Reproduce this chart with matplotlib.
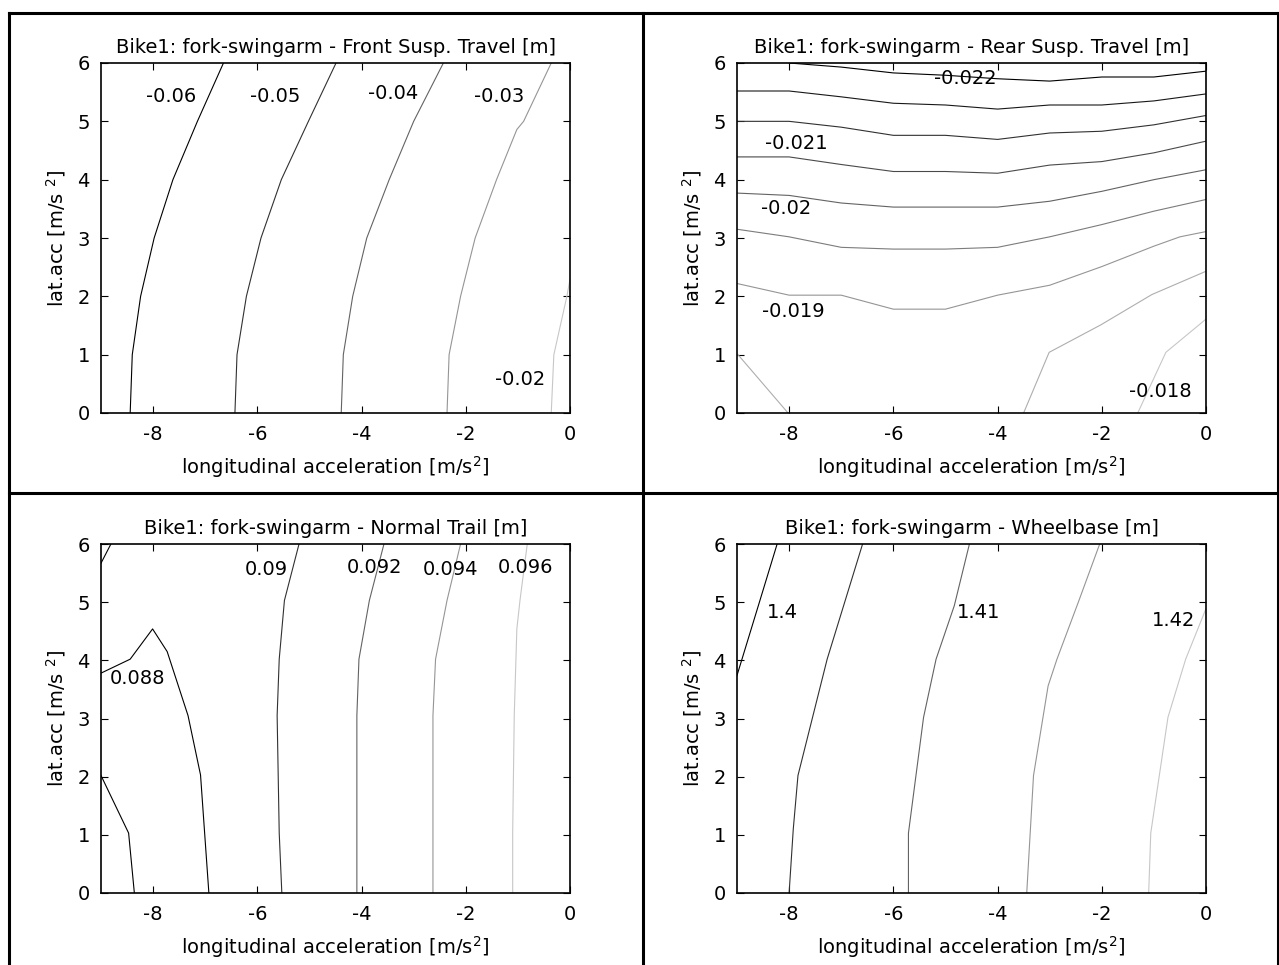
import numpy as np
import matplotlib
matplotlib.use("Agg")
import matplotlib.pyplot as plt
from matplotlib.lines import Line2D

plt.rcParams['font.family'] = ['DejaVu Sans']
plt.rcParams['font.size'] = 14
plt.rcParams['axes.unicode_minus'] = False

# ---------------- data ----------------
# Front susp. travel [m]
front_levels = [-0.06, -0.05, -0.04, -0.03, -0.02]
front_x = [[-8.44, -8.40, -8.24, -7.98, -7.62, -7.15, -6.65],
           [-6.43, -6.39, -6.21, -5.93, -5.54, -5.02, -4.49],
           [-4.39, -4.35, -4.17, -3.90, -3.47, -3.00, -2.43],
           [-2.36, -2.32, -2.10, -1.82, -1.41, -1.02, -0.89, -0.36],
           [-0.36, -0.31, -0.06, 0.0]]
front_y = [[0, 1, 2, 3, 4, 5, 6],
           [0, 1, 2, 3, 4, 5, 6],
           [0, 1, 2, 3, 4, 5, 6],
           [0, 1, 2, 3, 4, 4.86, 5, 6],
           [0, 1, 2, 2.29]]
front_lab = ["-0.06", "-0.05", "-0.04", "-0.03", "-0.02"]
front_lab_xy = [(-7.65, 5.42), (-5.65, 5.43), (-3.39, 5.47), (-1.36, 5.42), (-0.96, 0.57)]

# Rear susp. travel [m]
xg = [-9, -8, -7, -6, -5, -4, -3, -2, -1, 0]
rear_levels = [-0.022, -0.0215, -0.021, -0.0205, -0.020, -0.0195, -0.019,
               -0.0185, -0.0185, -0.018]
rear_x = [xg[1:],
          xg, xg, xg, xg, xg,
          [-9, -8, -7, -6, -5, -4, -3, -2, -1, -0.5, 0],
          [-9, -8.02],
          [-3.5, -3.01, -2.02, -1.04, 0],
          [-1.31, -0.77, 0]]
rear_y = [[6.0, 5.93, 5.83, 5.79, 5.73, 5.69, 5.76, 5.76, 5.86],
          [5.52, 5.52, 5.42, 5.31, 5.28, 5.21, 5.28, 5.28, 5.35, 5.47],
          [5.0, 5.0, 4.9, 4.76, 4.76, 4.69, 4.8, 4.83, 4.94, 5.1],
          [4.39, 4.39, 4.26, 4.14, 4.14, 4.11, 4.25, 4.31, 4.46, 4.66],
          [3.77, 3.73, 3.6, 3.53, 3.53, 3.53, 3.63, 3.8, 4.0, 4.17],
          [3.15, 3.02, 2.84, 2.81, 2.81, 2.84, 3.02, 3.23, 3.46, 3.66],
          [2.22, 2.02, 2.02, 1.78, 1.78, 2.02, 2.19, 2.51, 2.86, 3.02, 3.11],
          [1.02, 0.0],
          [0.0, 1.04, 1.51, 2.03, 2.43],
          [0.0, 1.04, 1.61]]
rear_lab = ["-0.022", "-0.021", "-0.02", "-0.019", "-0.018"]
rear_lab_xy = [(-4.62, 5.74), (-7.86, 4.62), (-8.05, 3.5), (-7.92, 1.74), (-0.88, 0.37)]

# Normal trail [m]
trail_levels = [0.088, 0.088, 0.088, 0.090, 0.092, 0.094, 0.096]
trail_x = [[-9.0, -8.81],
           [-9.0, -8.44, -8.01, -7.73, -7.33, -7.09, -6.93],
           [-9.0, -8.47, -8.36],
           [-5.53, -5.58, -5.62, -5.58, -5.48, -5.20],
           [-4.09, -4.09, -4.05, -3.85, -3.57],
           [-2.63, -2.63, -2.58, -2.36, -2.10],
           [-1.10, -1.10, -1.07, -1.02, -0.96, -0.82]]
trail_y = [[5.67, 6.0],
           [3.78, 4.02, 4.54, 4.15, 3.05, 2.03, 0.0],
           [2.02, 1.03, 0.0],
           [0.0, 1.03, 3.05, 4.02, 5.03, 6.0],
           [0.0, 3.05, 4.02, 5.03, 6.0],
           [0.0, 3.05, 4.02, 5.03, 6.0],
           [0.0, 1.03, 3.05, 4.54, 5.03, 6.0]]
trail_lab = ["0.09", "0.092", "0.094", "0.096", "0.088"]
trail_lab_xy = [(-5.82, 5.56), (-3.76, 5.6), (-2.3, 5.56), (-0.85, 5.6), (-8.3, 3.68)]

# Wheelbase [m]
wb_levels = [1.40, 1.405, 1.41, 1.415, 1.42]
wb_x = [[-9.0, -8.57, -8.23],
        [-8.0, -7.92, -7.83, -7.27, -6.59],
        [-5.71, -5.71, -5.42, -5.18, -4.83, -4.54],
        [-3.44, -3.31, -3.03, -2.86, -2.45, -2.04],
        [-1.10, -1.06, -0.73, -0.39, 0.0]]
wb_y = [[3.74, 5.0, 6.0],
        [0.0, 1.1, 2.02, 4.02, 6.0],
        [0.0, 1.03, 3.02, 4.02, 4.94, 6.0],
        [0.0, 2.02, 3.56, 4.02, 5.0, 6.0],
        [0.0, 1.03, 3.02, 4.02, 4.89]]
wb_lab = ["1.4", "1.41", "1.42"]
wb_lab_xy = [(-8.13, 4.83), (-4.36, 4.83), (-0.63, 4.68)]

panels = [
    ("Bike1: fork-swingarm - Front Susp. Travel [m]", front_levels, front_x, front_y, front_lab, front_lab_xy),
    ("Bike1: fork-swingarm - Rear Susp. Travel [m]", rear_levels, rear_x, rear_y, rear_lab, rear_lab_xy),
    ("Bike1: fork-swingarm - Normal Trail [m]", trail_levels, trail_x, trail_y, trail_lab, trail_lab_xy),
    ("Bike1: fork-swingarm - Wheelbase [m]", wb_levels, wb_x, wb_y, wb_lab, wb_lab_xy),
]

# ---------------- figure ----------------
W, H = 1279, 965
fig = plt.figure(figsize=(W / 100, H / 100), dpi=100)

# axes boxes in pixels: left, top, right, bottom
boxes = [(101, 63, 570, 413), (737, 63, 1206, 413),
         (101, 544, 570, 893), (737, 544, 1206, 893)]

for (title, levels, xs, ys, labs, labxy), (l, t, r, b) in zip(panels, boxes):
    ax = fig.add_axes([l / W, 1 - b / H, (r - l) / W, (b - t) / H])
    lv = np.array(levels)
    norm = (lv - lv.min()) / (lv.max() - lv.min())
    for x, y, f in zip(xs, ys, norm):
        ax.plot(x, y, color=plt.cm.gray(0.78 * f), lw=0.8)
    for s, (tx, ty) in zip(labs, labxy):
        ax.text(tx, ty, s, ha='center', va='center', fontsize=14)
    ax.set_xlim(-9, 0)
    ax.set_ylim(0, 6)
    ax.set_xticks([-8, -6, -4, -2, 0])
    ax.set_yticks([0, 1, 2, 3, 4, 5, 6])
    ax.tick_params(direction='in', top=True, right=True, length=5, width=0.8)
    ax.tick_params(axis='x', pad=9)
    ax.tick_params(axis='y', pad=8)
    for sp in ax.spines.values():
        sp.set_linewidth(1.2)
    ax.set_title(title, fontsize=14, pad=7.5)
    ax.set_xlabel("longitudinal acceleration [m/s$^2$]", labelpad=7)
    ax.set_ylabel("lat.acc [m/s $^2$]", labelpad=7)

# outer frame and dividing lines
for xx, yy in [([9, 9], [13, 965]), ([1278, 1278], [13, 965]), ([9, 1278], [13, 13]),
               ([643, 643], [13, 965]), ([9, 1278], [493, 493])]:
    fig.add_artist(Line2D([v / W for v in xx], [1 - v / H for v in yy],
                          color='black', lw=2.2, transform=fig.transFigure))

fig.savefig("out.png", dpi=100)
